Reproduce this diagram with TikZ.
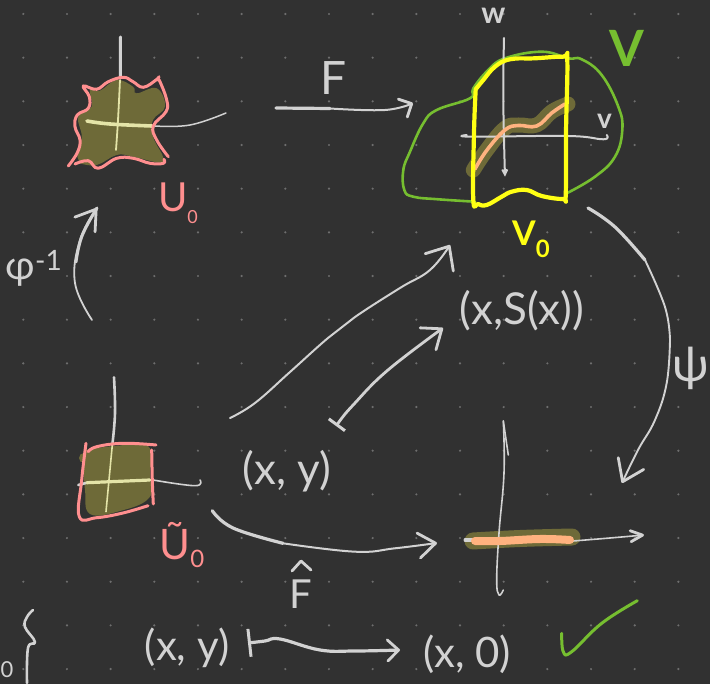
\documentclass[tikz,border=0pt]{standalone}
\usepackage{fontspec}
\setmainfont{Lato}
\usetikzlibrary{arrows.meta}
\definecolor{boardbg}{HTML}{313131}
\definecolor{dotgray}{HTML}{6E6E6E}
\definecolor{penwhite}{HTML}{D2D2D2}
\definecolor{salmon}{HTML}{FF8F8F}
\definecolor{olivefill}{HTML}{6E6A38}
\definecolor{paleline}{HTML}{E4E4A8}
\definecolor{pengreen}{HTML}{76BE30}
\definecolor{penyellow}{HTML}{FFFF14}
\definecolor{penorange}{HTML}{FFB27F}
\tikzset{
  hand/.style={smooth,tension=.7,line cap=round,line join=round},
  pen/.style={hand,penwhite,line width=2pt},
  lbl/.style={inner sep=0pt,text=penwhite,font=\fontsize{#1}{#1}\selectfont},
  barb/.style n args={2}{-{Straight Barb[length=#1pt,width=#2pt,line width=2.8pt,round]}},
  mapbarb/.style n args={3}{{Bar[width=#3pt,line width=3pt]}-{Straight Barb[length=#1pt,width=#2pt,line width=2.8pt,round]}}
}
\begin{document}
\begin{tikzpicture}[x=1pt,y=-1pt]
\fill[boardbg] (0,0) rectangle (710,684);
\useasboundingbox (0,0) rectangle (710,684);
\foreach \i in {0,...,15} \foreach \j in {0,...,15}
  \fill[dotgray] (23.3+43.67*\i,14+43.67*\j) circle (1.2);
% upper left chart
\fill[olivefill,hand] plot coordinates {(77.3,156.7) (81.7,136.7) (78.3,116.7) (91.7,106.7) (90,90) (100,90.7) (116.7,80) (133,86.7) (136.7,93.3) (156.7,88.3) (165,106.7) (153,120) (153,136.7) (163,156.7) (160,162.7) (133,156.7) (116.7,155) (96.7,165) (80,163.3)} -- cycle;
\draw[pen,line width=3pt] plot coordinates {(120.5,37) (120.3,78)};
\draw[hand,paleline,line width=1.8pt] plot coordinates {(120,80) (118,120) (116,150)};
\draw[hand,paleline,line width=3.6pt] plot coordinates {(87,121) (110,124) (152,126)};
\draw[pen,line width=1.5pt] plot coordinates {(155,126) (190,125) (226,113)};
\draw[hand,salmon,line width=3pt] plot coordinates {(68.3,166) (77.3,152.7) (80,140) (75,126.7) (77.3,115) (88.3,108.3) (89.3,96.7) (83.3,86) (96.7,89.3) (108.3,81.7) (123.3,77.3) (133,81.7) (143.3,87.3) (156,80) (159,76.7)};
\draw[hand,salmon,line width=3pt] plot coordinates {(158,80) (160,81.7) (166.7,100) (166,111.7) (153.3,126) (156.7,140) (168.3,156.7)};
\draw[hand,salmon,line width=3pt] plot coordinates {(75,164) (88.3,160.7) (98.3,168.3) (116.7,158.3) (133.3,158.3) (150,163.3) (163.3,163.3) (164,159.3)};
\node[lbl=40,text=salmon] (uzero) at (178,203) {U\raisebox{-12pt}{\fontsize{18}{18}\selectfont 0}};
% upper right chart
\draw[hand,pengreen,line width=2.6pt] plot coordinates {(475,201.7) (438.3,199.3) (413.3,196.7) (404.3,190) (403.3,170) (410,151.7) (423.3,123.3) (436.7,110) (470,98.3) (473.3,88.3) (488.3,70) (505,58.3) (541.7,51.7) (568.3,58.3) (581.7,59.3) (601.7,75) (618.3,106.7) (622.3,130) (615,156.7) (595,176.7) (566.7,193.3)};
\draw[hand,olivefill,line width=15pt] plot coordinates {(473.3,170) (486.7,150) (505,128.3) (518.3,125) (536.7,125) (551.7,111.7) (568,104)};
\draw[pen,line width=2pt,-{Straight Barb[length=5pt,width=5pt]}] plot coordinates {(504,38) (503.3,100) (505,176.7)};
\draw[pen] plot coordinates {(466.7,135) (471.7,136.7) (568.3,136) (603.3,139.3) (606.7,135)};
\draw[hand,penorange,line width=3.6pt] plot coordinates {(475,169) (487,150) (505,130) (518.3,125.5) (536.7,126) (551.7,113) (565,104)};
\draw[hand,penyellow,line width=4.2pt] plot coordinates {(475.7,89.3) (474,133) (473.3,200) (478,204) (486.7,205) (501.7,196.7) (511.7,191.7) (526.7,190) (541.7,196) (563,199) (565.7,195) (566,133) (567.3,60) (563.3,56.7) (535,58.3) (510,59.3) (495,66.7) (483.3,80) (475.7,89.3)};
\node[lbl=30,font=\fontsize{30}{30}\selectfont\bfseries] (wlabel) at (493.5,16) {w};
\node[lbl=28,font=\fontsize{28}{28}\selectfont\bfseries] (vlabel) at (604.5,121) {v};
\node[lbl=50,text=pengreen,font=\fontsize{50}{50}\selectfont\bfseries] (vbig) at (627,48) {V};
\node[lbl=34,text=penyellow,font=\fontsize{34}{34}\selectfont\bfseries] (vzero) at (531,239) {V\raisebox{-12pt}{\fontsize{24}{24}\selectfont 0}};
% lower left chart
\fill[olivefill,hand] plot coordinates {(85,450) (115,446) (148,446) (150,475) (149,498) (120,511) (90,514) (85,490) (84,470)} -- cycle;
\fill[olivefill] (84,458) circle (5);
\draw[pen,line width=2.6pt] plot coordinates {(114,377.3) (115,413) (112.3,445)};
\draw[hand,paleline,line width=1.6pt] (112.3,445) -- (106,511.7);
\draw[pen,line width=2.6pt] (78.3,485) -- (87,482.7);
\draw[hand,paleline,line width=3.2pt] (87,482.7) -- (150,480);
\draw[pen,line width=1.6pt] plot coordinates {(153,480) (195,485.7) (200,480)};
\draw[hand,salmon,line width=3pt] plot coordinates {(86,443.3) (81.7,480) (79.3,516.7) (96.7,517.7) (123,513) (148,505.7)};
\draw[hand,salmon,line width=3pt] plot coordinates {(88.3,451.7) (96.7,446.7) (123,443.3) (156,445)};
\draw[hand,salmon,line width=3pt] plot coordinates {(151.7,450) (152.3,480) (153.3,504)};
\node[lbl=42,text=salmon] (utilde) at (182,545) {Ũ\raisebox{-8pt}{\fontsize{24}{24}\selectfont 0}};
% lower right chart
\draw[hand,olivefill,line width=17pt] plot coordinates {(473,541) (520,538.5) (572,537)};
\draw[pen,line width=1.6pt] plot coordinates {(503.3,421) (504,473) (499,533) (496.7,580) (499,595) (503.3,590)};
\draw[pen,line width=1.6pt] (503.3,421) -- (508.3,455);
\draw[pen,line width=3pt] (465,540) -- (472,540);
\draw[pen,line width=1.6pt,barb={12}{11}] plot coordinates {(573,541) (610,538) (644,535)};
\draw[hand,penorange,line width=8pt] plot coordinates {(475,541) (500,541) (540,539) (570,540)};
% maps
\draw[pen,line width=3.2pt] (276,108) -- (330,108.5);
\draw[pen,barb={10}{20}] plot coordinates {(330,108.5) (385,110) (413,103)};
\draw[pen,line width=3pt] plot coordinates {(97,208) (82,236) (76,262)};
\draw[pen,line width=1.8pt,barb={19}{25}] plot coordinates {(92,320) (75,283) (80,240) (97,208)};
\draw[pen,line width=3.2pt] plot coordinates {(588,208) (615,227) (645,260)};
\draw[pen,line width=1.9pt] plot coordinates {(645,260) (665,307) (670,340)};
\draw[pen,line width=1.9pt,barb={20}{28}] plot coordinates {(670,340) (666.7,383) (655,420) (638,450) (622,483)};
\draw[pen,line width=2pt,barb={19}{33}] plot coordinates {(230,418) (255,403) (290,372) (328,338) (355,317) (400,288) (430,270) (450,245)};
\draw[pen,line width=2.8pt,mapbarb={17}{27}{20}] plot coordinates {(336,426) (355,403) (388,370) (443,328)};
\draw[pen,line width=3.2pt] plot coordinates {(212.3,510.7) (233,528) (283,543.3)};
\draw[pen,line width=2pt,barb={17}{25}] plot coordinates {(283,543.3) (355,551.7) (395,548.3) (437,543)};
\draw[pen,line width=3.2pt,mapbarb={11}{21}{28}] plot coordinates {(248,643) (265,641) (280,639) (320,650) (355,651) (400,650)};
% check and brace
\draw[hand,pengreen,line width=3pt] plot coordinates {(561.7,633.3) (563.3,651.7) (571.7,651.7) (601.7,623.3) (637.3,600.7)};
\draw[pen,line width=2.6pt] plot coordinates {(33,610) (27,617) (25,627) (35,642) (28,648) (27,683)};
\draw[penwhite,line width=2.8pt,line cap=round,line join=round] (292,571) -- (301,561) -- (311,570);
% labels
\node[lbl=46] (flabel) at (334,78) {F};
\node[lbl=40] (hatf) at (301,594) {F};
\node[lbl=40] (philabel) at (34,268) {φ\textsuperscript{-1}};
\node[lbl=48] (psilabel) at (691,368) {ψ};
\node[lbl=44] (xsx) at (522,311) {(x,S(x))};
\node[lbl=44] (xymid) at (287,471) {(x, y)};
\node[lbl=42] (xybot) at (187,648) {(x, y)};
\node[lbl=42] (xzero) at (467,654) {(x, 0)};
\node[lbl=22] (braceo) at (7,670) {0};
\end{tikzpicture}
\end{document}
